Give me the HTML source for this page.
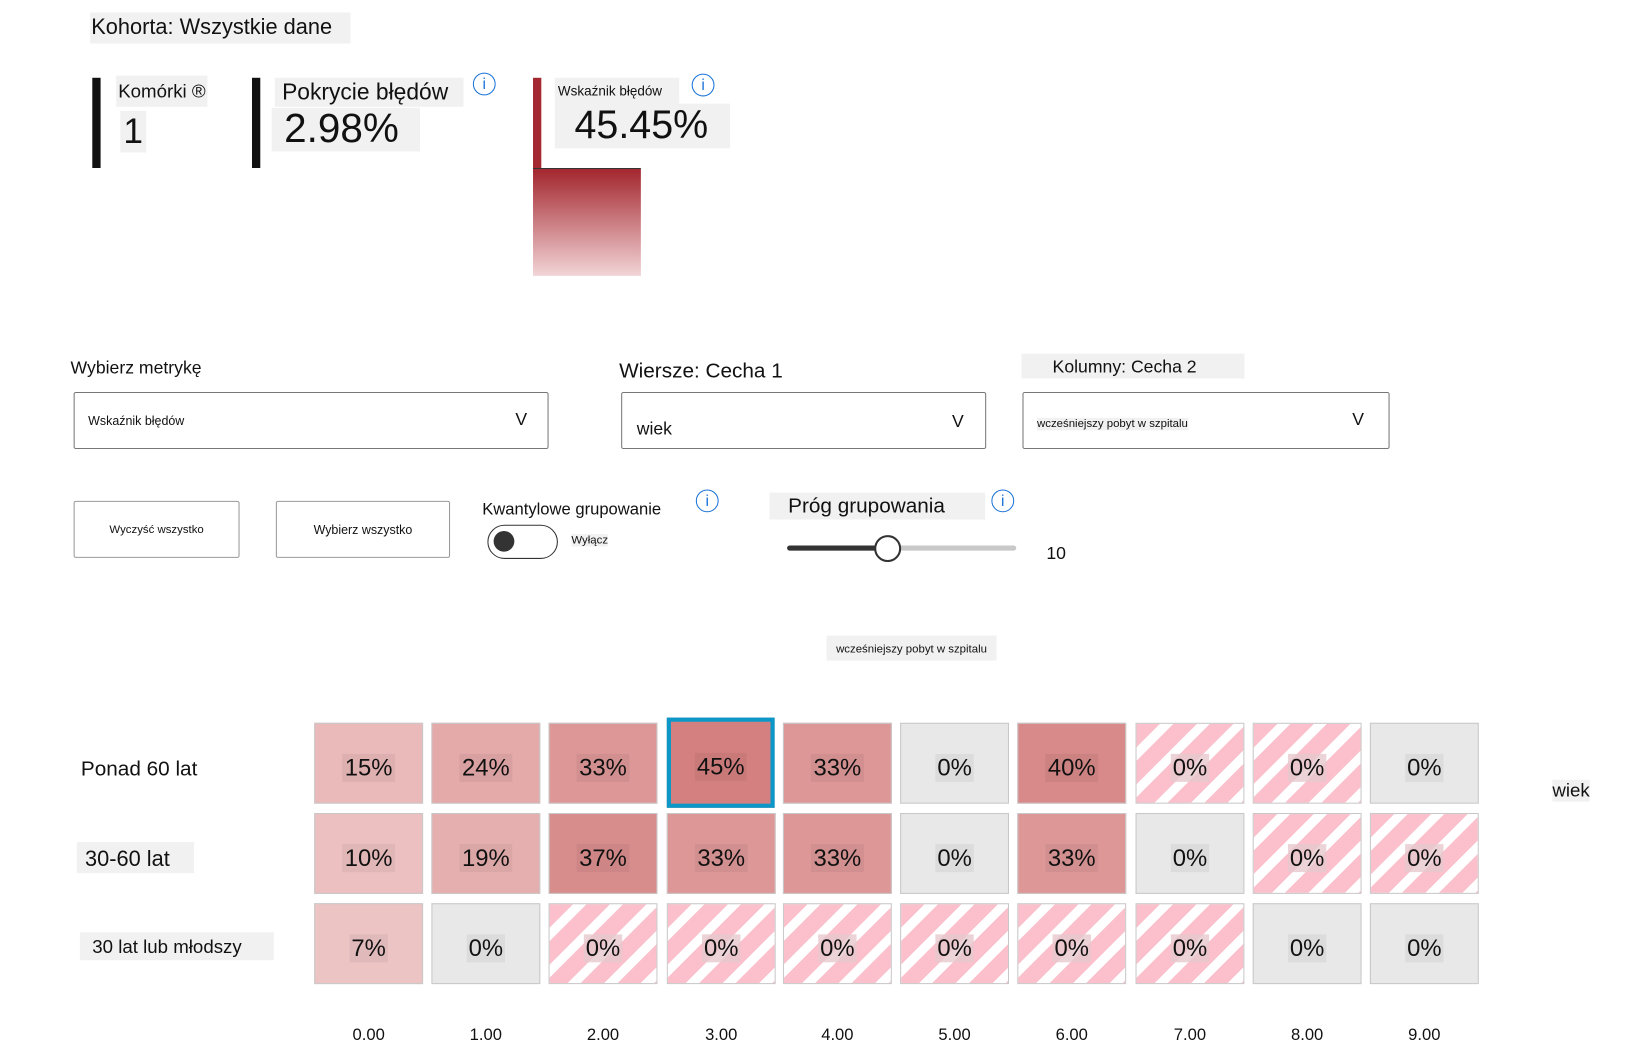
<!DOCTYPE html>
<html><head><meta charset="utf-8"><style>
html,body{margin:0;padding:0;background:#fff;width:1626px;height:1057px;overflow:hidden}
#w{position:absolute;left:0;top:0;width:1568px;height:1019px;transform:scale(1.037);transform-origin:0 0;font-family:"Liberation Sans","Noto Sans CJK SC",sans-serif;color:#111}
.a{position:absolute;white-space:nowrap}
.bg{background:#f1f1f1}
.info{position:absolute;width:22px;height:22px;border:1.5px solid #1a73d9;border-radius:50%;color:#1a73d9;font-size:15px;text-align:center;line-height:22px;box-sizing:border-box}
.dd{position:absolute;border:1px solid #777;border-radius:2px;box-sizing:border-box;height:55px}
.btn{position:absolute;border:1px solid #999;border-radius:2px;box-sizing:border-box;height:55px;font-size:11px;text-align:center;line-height:55px}
.c{position:absolute;width:105px;height:78px;border:1px solid #c8c8c8;box-sizing:border-box;display:flex;align-items:center;justify-content:center;font-size:23px;padding-top:8px}
.c span{background:rgba(0,0,0,0.05);padding:0 2px}
.g{background:#e8e8e8}
.s{background:repeating-linear-gradient(135deg,#fbc0cb 0 16px,#fff 16px 25px)}
.s span{background:rgba(230,200,205,0.8)}
.x{position:absolute;font-size:16px;top:990px;width:105px;text-align:center}
</style></head><body><div id="w">
<div class="a bg" style="left:87px;top:12px;width:250px;height:30px;font-size:21px;line-height:30px;padding-left:1px">Kohorta: Wszystkie dane</div>

<div class="a" style="left:89px;top:75px;width:8px;height:87px;background:#111"></div>
<div class="a bg" style="left:112px;top:73px;font-size:18px;line-height:30px;padding:0 2px">Komórki ®</div>
<div class="a bg" style="left:116px;top:107px;font-size:34px;line-height:40px;padding:0 3px">1</div>

<div class="a" style="left:243px;top:75px;width:8px;height:87px;background:#111"></div>
<div class="a bg" style="left:265px;top:75px;width:182px;font-size:22px;line-height:28px;padding-left:7px;box-sizing:border-box">Pokrycie błędów</div>
<div class="a bg" style="left:262px;top:104px;width:143px;font-size:39px;line-height:42px;padding-left:12px;box-sizing:border-box">2.98%</div>
<div class="info" style="left:456px;top:70px">i</div>

<div class="a" style="left:514px;top:75px;width:8px;height:87px;background:#a3282f"></div>
<div class="a" style="left:514px;top:162px;width:104px;height:104px;background:linear-gradient(#a3262e,#f2d4d6);border-top:1px solid #333;box-sizing:border-box"></div>
<div class="a bg" style="left:535px;top:75px;width:120px;font-size:13px;line-height:25px;padding-left:3px;box-sizing:border-box">Wskaźnik błędów</div>
<div class="info" style="left:667px;top:71px">i</div>
<div class="a bg" style="left:535px;top:100px;width:169px;font-size:38px;line-height:43px;padding-left:19px;box-sizing:border-box">45.45%</div>

<div class="a" style="left:68px;top:343px;font-size:17px;line-height:24px">Wybierz metrykę</div>
<div class="dd" style="left:71px;top:378px;width:458px"><span class="a" style="left:13px;top:20px;font-size:12px">Wskaźnik błędów</span><span class="a" style="left:425px;top:16px;font-size:17px">V</span></div>
<div class="a" style="left:597px;top:345px;font-size:20px;line-height:26px">Wiersze: Cecha 1</div>
<div class="dd" style="left:599px;top:378px;width:352px"><span class="a" style="left:14px;top:25px;font-size:17px">wiek</span><span class="a" style="left:318px;top:18px;font-size:17px">V</span></div>
<div class="a bg" style="left:985px;top:341px;width:215px;height:24px;font-size:17px;line-height:25px;padding-left:30px;box-sizing:border-box">Kolumny: Cecha 2</div>
<div class="dd" style="left:986px;top:378px;width:354px"><span class="a bg" style="left:13px;top:24px;font-size:11px">wcześniejszy pobyt w szpitalu</span><span class="a" style="left:317px;top:16px;font-size:17px">V</span></div>

<div class="btn" style="left:71px;top:483px;width:160px">Wyczyść wszystko</div>
<div class="btn" style="left:266px;top:483px;width:168px;font-size:12px">Wybierz wszystko</div>
<div class="a" style="left:465px;top:481px;font-size:16px;line-height:22px">Kwantylowe grupowanie</div>
<div class="info" style="left:671px;top:472px">i</div>
<div class="a" style="left:470px;top:506px;width:68px;height:33px;border:1.5px solid #333;border-radius:17px;box-sizing:border-box"></div>
<div class="a" style="left:476px;top:512px;width:20px;height:20px;border-radius:50%;background:#333"></div>
<div class="a bg" style="left:551px;top:515px;font-size:11px">Wyłącz</div>
<div class="a bg" style="left:742px;top:475px;width:208px;height:26px;font-size:20px;line-height:27px;padding-left:18px;box-sizing:border-box">Próg grupowania</div>
<div class="info" style="left:956px;top:472px">i</div>
<div class="a" style="left:759px;top:526px;width:221px;height:5px;border-radius:3px;background:#c8c8c8"></div>
<div class="a" style="left:759px;top:526px;width:97px;height:5px;border-radius:3px;background:#333"></div>
<div class="a" style="left:843px;top:516px;width:26px;height:26px;border-radius:50%;background:#fff;border:2.5px solid #333;box-sizing:border-box"></div>
<div class="a" style="left:1009px;top:524px;font-size:17px">10</div>

<div class="a bg" style="left:797px;top:613px;width:164px;height:24px;font-size:11px;line-height:26px;text-align:center">wcześniejszy pobyt w szpitalu</div>

<div class="a" style="left:78px;top:731px;font-size:20px">Ponad 60 lat</div>
<div class="a bg" style="left:74px;top:812px;width:113px;height:30px;font-size:21px;line-height:34px;padding-left:8px;box-sizing:border-box">30-60 lat</div>
<div class="a bg" style="left:77px;top:899px;width:187px;height:27px;font-size:18px;line-height:28px;padding-left:12px;box-sizing:border-box">30 lat lub młodszy</div>
<div class="a bg" style="left:1497px;top:752px;font-size:18px">wiek</div>

<div class="c" style="left:303px;top:697px;background:#eab9b9"><span>15%</span></div>
<div class="c" style="left:416px;top:697px;background:#e4a9a9"><span>24%</span></div>
<div class="c" style="left:529px;top:697px;background:#dd9797"><span>33%</span></div>
<div class="c" style="left:643px;top:692px;width:104px;height:87px;background:#d58080;border:4px solid #0b98c9"><span>45%</span></div>
<div class="c" style="left:755px;top:697px;background:#dd9797"><span>33%</span></div>
<div class="c g" style="left:868px;top:697px"><span>0%</span></div>
<div class="c" style="left:981px;top:697px;background:#d88a8a"><span>40%</span></div>
<div class="c s" style="left:1095px;top:697px"><span>0%</span></div>
<div class="c s" style="left:1208px;top:697px"><span>0%</span></div>
<div class="c g" style="left:1321px;top:697px"><span>0%</span></div>

<div class="c" style="left:303px;top:784px;background:#ecc0c0"><span>10%</span></div>
<div class="c" style="left:416px;top:784px;background:#e6afaf"><span>19%</span></div>
<div class="c" style="left:529px;top:784px;background:#d88d8d"><span>37%</span></div>
<div class="c" style="left:643px;top:784px;background:#dd9797"><span>33%</span></div>
<div class="c" style="left:755px;top:784px;background:#dd9797"><span>33%</span></div>
<div class="c g" style="left:868px;top:784px"><span>0%</span></div>
<div class="c" style="left:981px;top:784px;background:#dd9797"><span>33%</span></div>
<div class="c g" style="left:1095px;top:784px"><span>0%</span></div>
<div class="c s" style="left:1208px;top:784px"><span>0%</span></div>
<div class="c s" style="left:1321px;top:784px"><span>0%</span></div>

<div class="c" style="left:303px;top:871px;background:#edc4c4"><span>7%</span></div>
<div class="c g" style="left:416px;top:871px"><span>0%</span></div>
<div class="c s" style="left:529px;top:871px"><span>0%</span></div>
<div class="c s" style="left:643px;top:871px"><span>0%</span></div>
<div class="c s" style="left:755px;top:871px"><span>0%</span></div>
<div class="c s" style="left:868px;top:871px"><span>0%</span></div>
<div class="c s" style="left:981px;top:871px"><span>0%</span></div>
<div class="c s" style="left:1095px;top:871px"><span>0%</span></div>
<div class="c g" style="left:1208px;top:871px"><span>0%</span></div>
<div class="c g" style="left:1321px;top:871px"><span>0%</span></div>

<div class="x" style="left:303px">0.00</div>
<div class="x" style="left:416px">1.00</div>
<div class="x" style="left:529px">2.00</div>
<div class="x" style="left:643px">3.00</div>
<div class="x" style="left:755px">4.00</div>
<div class="x" style="left:868px">5.00</div>
<div class="x" style="left:981px">6.00</div>
<div class="x" style="left:1095px">7.00</div>
<div class="x" style="left:1208px">8.00</div>
<div class="x" style="left:1321px">9.00</div>
</div></body></html>
